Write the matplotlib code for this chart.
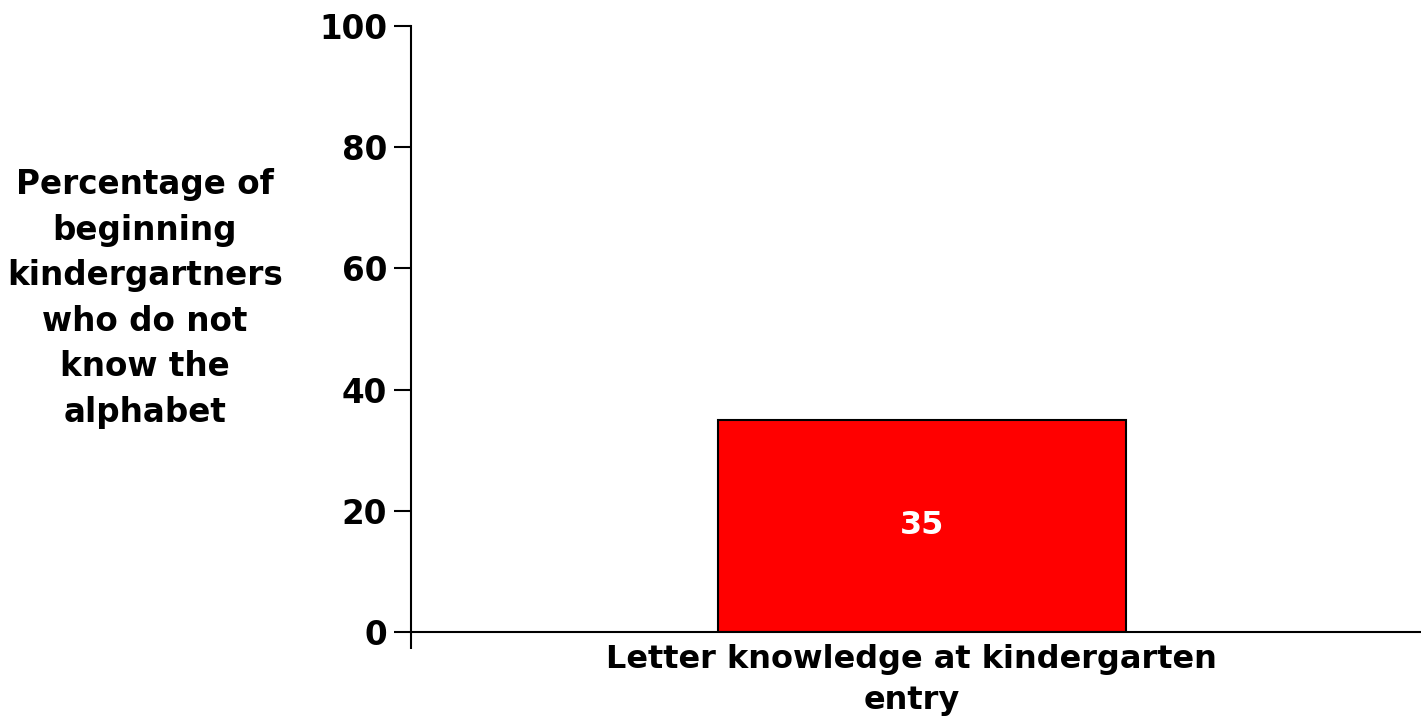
import matplotlib.pyplot as plt

# chart data
categories = ['Letter knowledge at kindergarten\nentry']
values = [35]
y_ticks = [0, 20, 40, 60, 80, 100]
y_label = 'Percentage of\nbeginning\nkindergartners\nwho do not\nknow the\nalphabet'

plt.rcParams['font.family'] = ['DejaVu Sans']
plt.rcParams['font.weight'] = 'bold'

fig = plt.figure(figsize=(14.21, 7.18), dpi=100)
ax = fig.add_axes([0.2892, 0.1198, 0.7108, 0.844])

bars = ax.bar([0], values, width=0.404, color='#ff0000', edgecolor='black', linewidth=1.5)
for b, v in zip(bars, values):
    ax.text(b.get_x() + b.get_width() / 2, v / 2, str(v), ha='center', va='center',
            color='white', fontsize=23, fontweight='bold')

ax.set_xlim(-0.506, 0.494)
ax.set_ylim(0, 100)
ax.set_yticks(y_ticks)
ax.set_yticklabels([str(t) for t in y_ticks], fontsize=23.5, fontweight='bold')
ax.tick_params(axis='y', direction='out', length=12, width=1.5, pad=5)
ax.set_xticks([-0.506])
ax.set_xticklabels([''])
ax.tick_params(axis='x', direction='out', length=12, width=1.5)

for side in ['top', 'right']:
    ax.spines[side].set_visible(False)
for side in ['left', 'bottom']:
    ax.spines[side].set_linewidth(1.5)

ax.text(-0.01, -0.02, categories[0], transform=ax.get_xaxis_transform(), ha='center', va='top',
        fontsize=23, fontweight='bold', linespacing=1.4)

fig.text(0.102, 0.584, y_label, ha='center', va='center', fontsize=23.5,
         fontweight='bold', linespacing=1.48)

fig.savefig('out.png', dpi=100)
